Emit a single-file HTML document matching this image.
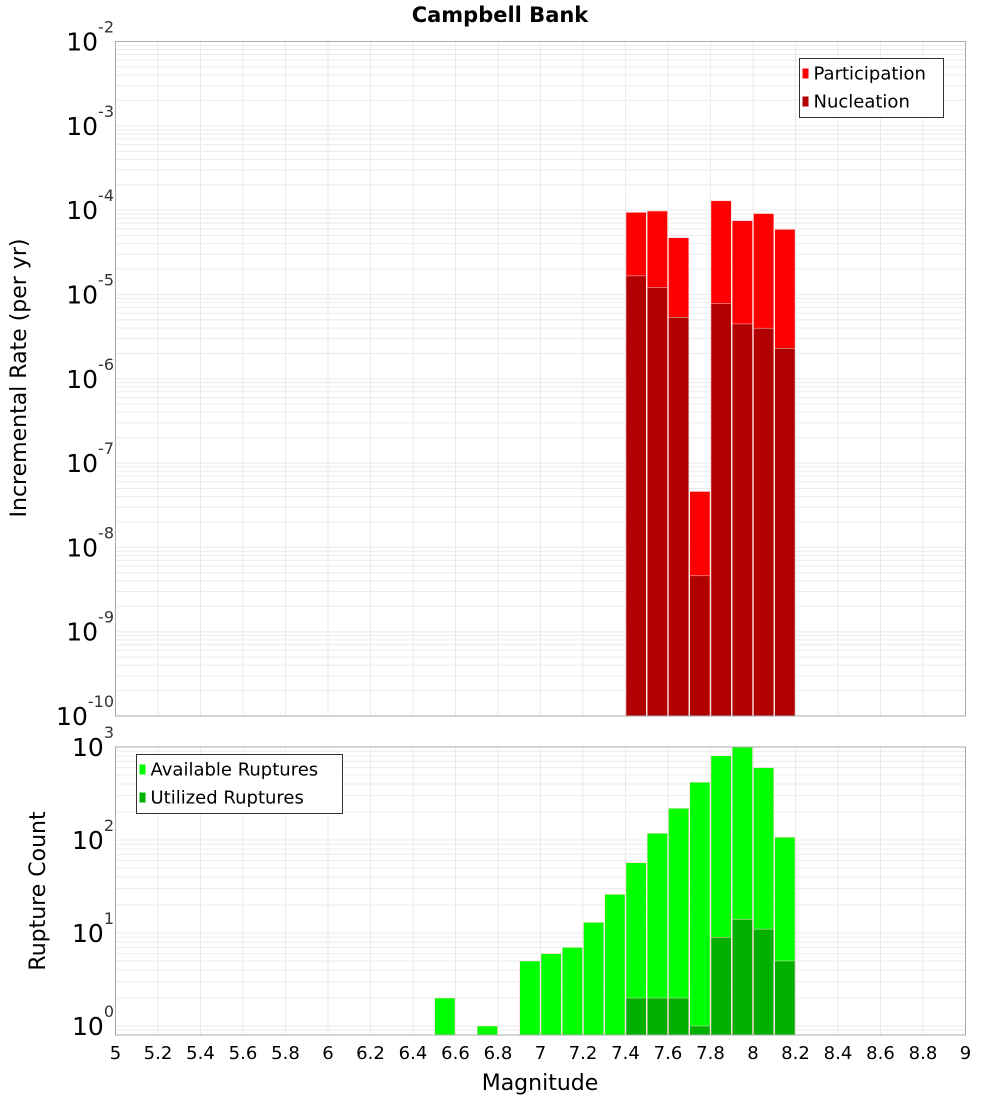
<!DOCTYPE html>
<html><head><meta charset="utf-8"><style>
body{margin:0;background:#fff;width:1000px;height:1100px;overflow:hidden}
svg{display:block;font-family:"DejaVu Sans","Liberation Sans",sans-serif}
</style></head><body>
<svg id="c" width="1000" height="1100"></svg>
<script>
const bins=[6.55,6.75,6.95,7.05,7.15,7.25,7.35,7.45,7.55,7.65,7.75,7.85,7.95,8.05,8.15];
const availVals=[2,1,5,6,7,13,26,57,118,219,417,806,1000,599,107];
const utilBins=[7.45,7.55,7.65,7.75,7.85,7.95,8.05,8.15];
const utilVals=[2,2,2,1,9,14,11,5];
const rateBins=[7.45,7.55,7.65,7.75,7.85,7.95,8.05,8.15];
const partVals=[9.4e-5,9.75e-5,4.7e-5,4.6e-8,1.29e-4,7.5e-5,9.1e-5,5.9e-5];
const nuclVals=[1.66e-5,1.21e-5,5.36e-6,4.6e-9,7.8e-6,4.47e-6,3.98e-6,2.3e-6];
const xTicks=[5,5.2,5.4,5.6,5.8,6,6.2,6.4,6.6,6.8,7,7.2,7.4,7.6,7.8,8,8.2,8.4,8.6,8.8,9];
const xTickLabels=["5","5.2","5.4","5.6","5.8","6","6.2","6.4","6.6","6.8","7","7.2","7.4","7.6","7.8","8","8.2","8.4","8.6","8.8","9"];
const topExps=[-2,-3,-4,-5,-6,-7,-8,-9,-10];
const botExps=[3,2,1,0];

const svg=document.getElementById('c');
const NS='http://www.w3.org/2000/svg';
function mk(t,a,p){const e=document.createElementNS(NS,t);for(const k in a)e.setAttribute(k,a[k]);(p||svg).appendChild(e);return e;}
const X0=115.5,X1=965.5;
const xs=m=>X0+(m-5)/4*(X1-X0);
const T0=41.5,T1=716;
const yTop=v=>T0+(-2-Math.log10(v))*(T1-T0)/8;
const B0=747,B1=1035;
const yBot=v=>1026-Math.log10(v)*93;

function panel(y0,y1,name,isTop){
  const g=mk('g',{});
  
  
  mk('rect',{x:X0,y:y0,width:X1-X0,height:y1-y0,fill:'#fff'},g);
  xTicks.forEach(m=>{if(m>5&&m<9)mk('line',{x1:xs(m),x2:xs(m),y1:y0,y2:y1,stroke:'#ebebeb','stroke-width':1},g);});
  if(isTop){
    for(let e=-10;e<-2;e++)for(let k=1;k<10;k++){const y=yTop(k*Math.pow(10,e));if(y>y0&&y<y1)mk('line',{x1:X0,x2:X1,y1:y,y2:y,stroke:'#ebebeb'},g);}
  }else{
    for(let e=-1;e<3;e++)for(let k=1;k<10;k++){const y=yBot(k*Math.pow(10,e));if(y>y0&&y<y1)mk('line',{x1:X0,x2:X1,y1:y,y2:y,stroke:'#ebebeb'},g);}
  }
  return g;
}
const gt=panel(T0,T1,'rate-plot',true);
const gb=panel(B0,B1,'count-plot',false);

const bw=0.1*(X1-X0)/4;
function bar(g,m,top,bottom,color,name){
  const r=mk('rect',{x:xs(m)-bw/2+0.5,y:top,width:bw-1,height:bottom-top,fill:color,stroke:'#ffd0d0','stroke-width':0.5},g);
  
  
}
rateBins.forEach((m,i)=>bar(gt,m,yTop(partVals[i]),T1,'#ff0000','participation-bar'));
rateBins.forEach((m,i)=>bar(gt,m,yTop(nuclVals[i]),T1,'#b00000','nucleation-bar'));
bins.forEach((m,i)=>bar(gb,m,yBot(availVals[i]),B1,'#00ff00','available-bar'));
utilBins.forEach((m,i)=>bar(gb,m,yBot(utilVals[i]),B1,'#00b000','utilized-bar'));

mk('rect',{x:X0,y:T0,width:X1-X0,height:T1-T0,fill:'none',stroke:'#aaa'});
mk('rect',{x:X0,y:B0,width:X1-X0,height:B1-B0,fill:'none',stroke:'#aaa'});

function powLabel(y,e,name){
  const t=mk('text',{x:114,y:y+9,'text-anchor':'end','font-size':25,fill:'#000'});
  
  
  const a=document.createElementNS(NS,'tspan');a.textContent='10';t.appendChild(a);
  const b=document.createElementNS(NS,'tspan');b.setAttribute('dy','-18');b.setAttribute('font-size','16');b.setAttribute('fill','#333');b.textContent=String(e);t.appendChild(b);
}
topExps.forEach(e=>powLabel(yTop(Math.pow(10,e)),e,'y-tick-label'));
botExps.forEach(e=>powLabel(yBot(Math.pow(10,e)),e,'y-tick-label'));

xTicks.forEach((m,i)=>{const t=mk('text',{x:xs(m),y:1059,'text-anchor':'middle','font-size':18,fill:'#000'});t.textContent=xTickLabels[i];

});

function txt(s,a,name){const t=mk('text',a);t.textContent=s;return t;}
txt('Campbell Bank',{x:500,y:22,'text-anchor':'middle','font-size':21,'font-weight':'bold'},'chart-title');
txt('Magnitude',{x:540,y:1090,'text-anchor':'middle','font-size':22},'x-axis-title');
txt('Incremental Rate (per yr)',{x:0,y:0,'text-anchor':'middle','font-size':22,transform:'translate(26,378) rotate(-90)'},'y-axis-title-top');
txt('Rupture Count',{x:0,y:0,'text-anchor':'middle','font-size':22,transform:'translate(45,891) rotate(-90)'},'y-axis-title-bottom');

function legend(x,y,w,items,name){
  const g=mk('g',{});
  
  
  mk('rect',{x:x,y:y,width:w,height:59,fill:'#fff',stroke:'#333'},g);
  items.forEach((it,i)=>{
    mk('rect',{x:x+3,y:y+10+i*28,width:6,height:10,fill:it[1]},g);
    const t=mk('text',{x:x+14,y:y+21+i*28,'font-size':18},g);t.textContent=it[0];
  });
}
legend(799.5,58.5,144,[['Participation','#ff0000'],['Nucleation','#b00000']],'legend-top');
legend(136.5,754.5,206,[['Available Ruptures','#00ff00'],['Utilized Ruptures','#00b000']],'legend-bottom');
</script>
</body></html>
